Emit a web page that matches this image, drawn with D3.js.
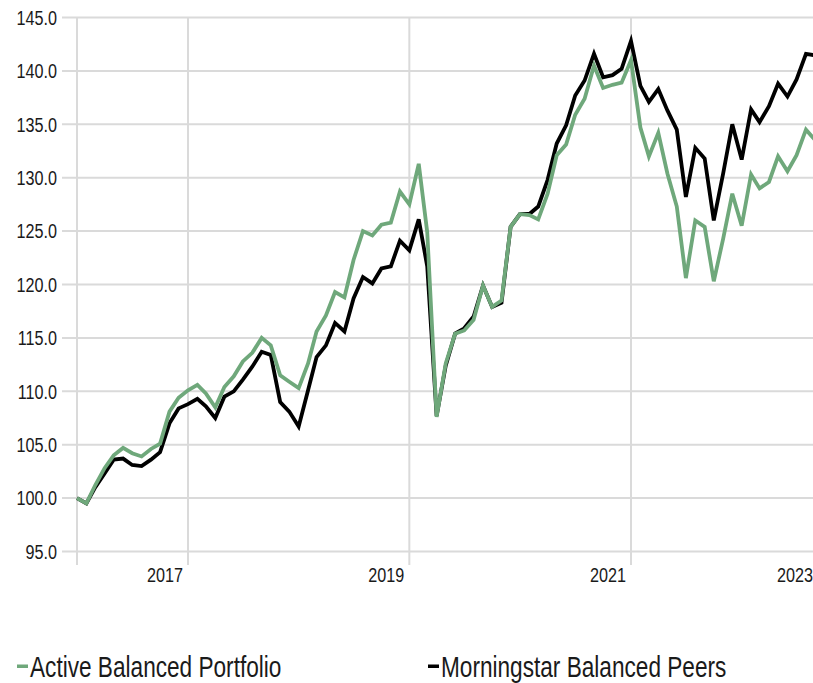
<!DOCTYPE html>
<html>
<head>
<meta charset="utf-8">
<script src="https://cdn.jsdelivr.net/npm/d3@7"></script>
<style>
  html, body { margin: 0; padding: 0; background: #fff; }
  svg { display: block; }
  text { font-family: "Liberation Sans", Arial, sans-serif; fill: #1a1a1a; }
</style>
</head>
<body>
<div id="chart"></div>
<script>
// ---------------- data ----------------
const startMonth = "2016-01-01";
const activeBalanced = [
  100.0, 99.5, 101.2, 102.8, 104.0, 104.7, 104.2, 103.9, 104.6, 105.1,
  108.1, 109.4, 110.1, 110.6, 109.8, 108.5, 110.4, 111.4, 112.8, 113.6,
  115.0, 114.3, 111.5, 110.9, 110.3, 112.6, 115.6, 117.1, 119.3, 118.8,
  122.3, 125.0, 124.6, 125.6, 125.8, 128.7, 127.5, 131.3, 124.9, 107.6,
  112.6, 115.4, 115.7, 116.7, 119.9, 117.9, 118.5, 125.4, 126.6, 126.5,
  126.1, 128.5, 132.1, 133.1, 135.9, 137.4, 140.5, 138.4, 138.7, 138.9,
  141.0, 134.7, 132.0, 134.2, 130.4, 127.3, 120.6, 126.0, 125.4, 120.3,
  124.3, 128.5, 125.5, 130.3, 129.0, 129.6, 132.0, 130.6, 132.1, 134.5,
  133.5
];
const balancedPeers = [
  100.0, 99.5, 101.0, 102.3, 103.6, 103.7, 103.1, 103.0, 103.6, 104.3,
  107.0, 108.4, 108.8, 109.3, 108.6, 107.5, 109.5, 110.0, 111.1, 112.3,
  113.7, 113.4, 109.0, 108.1, 106.7, 110.1, 113.2, 114.3, 116.4, 115.6,
  118.7, 120.7, 120.1, 121.5, 121.7, 124.1, 123.2, 126.1, 121.7, 107.7,
  112.4, 115.4, 115.9, 117.0, 119.9, 117.9, 118.3, 125.4, 126.6, 126.6,
  127.3, 129.8, 133.2, 134.9, 137.7, 139.1, 141.6, 139.4, 139.6, 140.2,
  142.8, 138.6, 137.1, 138.3, 136.3, 134.5, 128.2, 132.8, 131.8, 126.0,
  130.4, 135.0, 131.7, 136.4, 135.2, 136.7, 138.8, 137.6, 139.2, 141.6,
  141.45
];
const yTicks = [95, 100, 105, 110, 115, 120, 125, 130, 135, 140, 145];
const gridYears = ["2016-01-01", "2017-01-01", "2019-01-01", "2021-01-01"];
const labelYears = ["2017-01-01", "2019-01-01", "2021-01-01", "2023-01-01"];
const seriesNames = ["Active Balanced Portfolio", "Morningstar Balanced Peers"];
const seriesColors = ["#6fa87b", "#000000"];

// ---------------- chart ----------------
const W = 813, H = 683;
const NARROW = 0.81;
const svg = d3.select("#chart").append("svg").attr("width", W).attr("height", H);

const t0 = new Date(startMonth + "T00:00:00Z");
const months = activeBalanced.map((_, i) => d3.utcMonth.offset(t0, i));

const x = d3.scaleUtc()
  .domain([months[0], months[60]])
  .range([77, 631]);
const y = d3.scaleLinear().domain([95, 145]).range([551.5, 17.5]);

const gridColor = "#dadada";

// horizontal gridlines + y labels
const yg = svg.append("g");
yg.selectAll("line").data(yTicks).join("line")
  .attr("x1", 62).attr("x2", W)
  .attr("y1", d => y(d)).attr("y2", d => y(d))
  .attr("stroke", gridColor).attr("stroke-width", 2);
yg.selectAll("text").data(yTicks).join("text")
  .attr("transform", d => `translate(57,${y(d)}) scale(${NARROW},1)`)
  .attr("dy", "0.36em")
  .attr("text-anchor", "end").attr("font-size", 20)
  .text(d3.format(".1f"));

// vertical gridlines
const xg = svg.append("g");
xg.selectAll("line").data(gridYears.map(s => new Date(s + "T00:00:00Z"))).join("line")
  .attr("x1", d => x(d)).attr("x2", d => x(d))
  .attr("y1", 17.5).attr("y2", 565)
  .attr("stroke", gridColor).attr("stroke-width", 2);
xg.selectAll("text").data(labelYears.map(s => new Date(s + "T00:00:00Z"))).join("text")
  .attr("transform", d => `translate(${Math.min(x(d) - 5, W)},582) scale(${NARROW},1)`)
  .attr("text-anchor", "end").attr("font-size", 20)
  .text(d3.utcFormat("%Y"));

// lines (peers below, portfolio on top)
const line = d3.line().x((d, i) => x(months[i])).y(d => y(d));
[[balancedPeers, 1], [activeBalanced, 0]].forEach(([s, k]) => {
  svg.append("path")
    .datum(s)
    .attr("fill", "none")
    .attr("stroke", seriesColors[k])
    .attr("stroke-width", 3.8)
    .attr("stroke-linejoin", "miter")
    .attr("d", line);
});

// legend
const legendX = [17, 428];
const lg = svg.append("g");
seriesNames.forEach((name, k) => {
  lg.append("rect")
    .attr("x", legendX[k]).attr("y", 664.5)
    .attr("width", 11).attr("height", 3.5)
    .attr("fill", seriesColors[k]);
  lg.append("text")
    .attr("transform", `translate(${legendX[k] + 13},676.5) scale(0.78,1)`)
    .attr("font-size", 29)
    .text(name);
});
</script>
</body>
</html>
